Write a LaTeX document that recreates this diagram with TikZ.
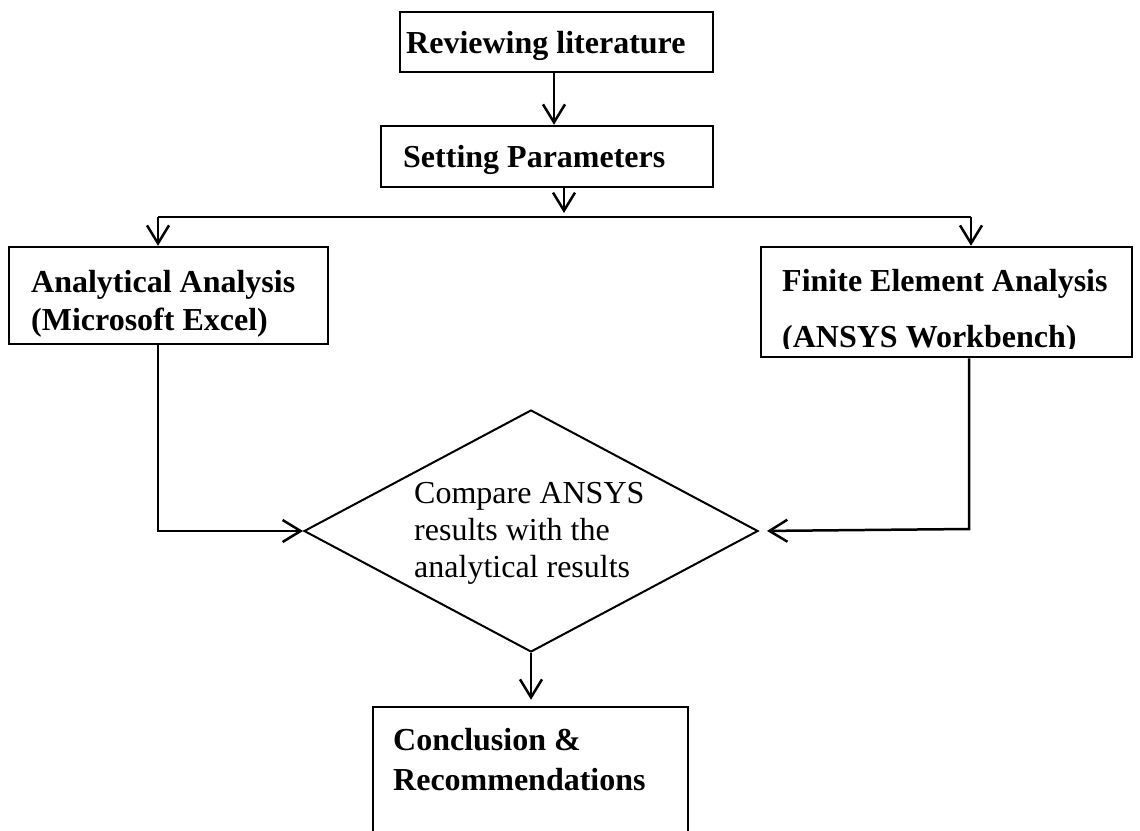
\documentclass[tikz,border=0pt]{standalone}
\usepackage{fontspec}
\setmainfont{Liberation Serif}
\usetikzlibrary{arrows.meta,shapes.geometric}
\begin{document}
\begin{tikzpicture}[x=1pt,y=-1pt,
  box/.style={draw,line width=2.5pt,inner sep=0pt,rectangle},
  lbl/.style={anchor=base west,inner sep=0pt,align=left,font=\fontsize{32}{38}\selectfont\bfseries},
  dtxt/.style={anchor=base west,inner sep=0pt,align=left,font=\fontsize{32}{37}\selectfont},
  conn/.style={line width=2.5pt},
  arr/.style={line width=2.5pt,-{Straight Barb[length=18pt,width=22pt]}}]
\clip (0,0) rectangle (1140,830);
\fill[white] (0,0) rectangle (1140,830);
% boxes
\node[box,minimum width=313pt,minimum height=60pt] (rev) at (556.5,42) {};
\node[lbl] (revt) at (406,53) {Reviewing literature};
\node[box,minimum width=332pt,minimum height=61pt] (set) at (547,156.5) {};
\node[lbl] (sett) at (403,167) {Setting Parameters};
\node[box,minimum width=319pt,minimum height=97pt] (ana) at (168.5,295.5) {};
\node[lbl] (anat) at (31,330) {Analytical Analysis\\(Microsoft Excel)};
\node[box,minimum width=371pt,minimum height=110pt] (fea) at (946.5,302) {};
\begin{scope}
  \clip (761,247) rectangle (1132,348);
  \node[lbl,font=\fontsize{32}{56}\selectfont\bfseries] (feat) at (782,347) {Finite Element Analysis\\(ANSYS Workbench)};
\end{scope}
\node[draw,diamond,line width=2pt,minimum width=454pt,minimum height=242pt,inner sep=0pt] (dia) at (531,531) {};
\node[dtxt] (diat) at (414,577) {Compare ANSYS\\results with the\\analytical results};
\node[box,minimum width=315pt,minimum height=170pt] (conc) at (530.5,792) {};
\node[lbl,font=\fontsize{32}{40}\selectfont\bfseries] (conct) at (393,790) {Conclusion \&\\Recommendations};
% connectors
\coordinate (jl) at (158,217);
\coordinate (jr) at (971,217);
\coordinate (bl) at (158,531);
\coordinate (br) at (969,529);
\draw[arr] (554,0 |- rev.south) -- (554,0 |- set.north);
\draw[arr] (564,0 |- set.south) -- (564,213);
\draw[conn] (jl) -- (jr);
\draw[arr] (jl) -- (jl |- ana.north);
\draw[arr] (jr) -- (jr |- fea.north);
\draw[arr] (jl |- ana.south) -- (bl) -- (dia.west);
\draw[arr,shorten >=8pt] (br |- fea.south) -- (br) -- (dia.east);
\draw[arr,shorten >=6pt] (dia.south) -- (dia.south |- conc.north);
\end{tikzpicture}
\end{document}
